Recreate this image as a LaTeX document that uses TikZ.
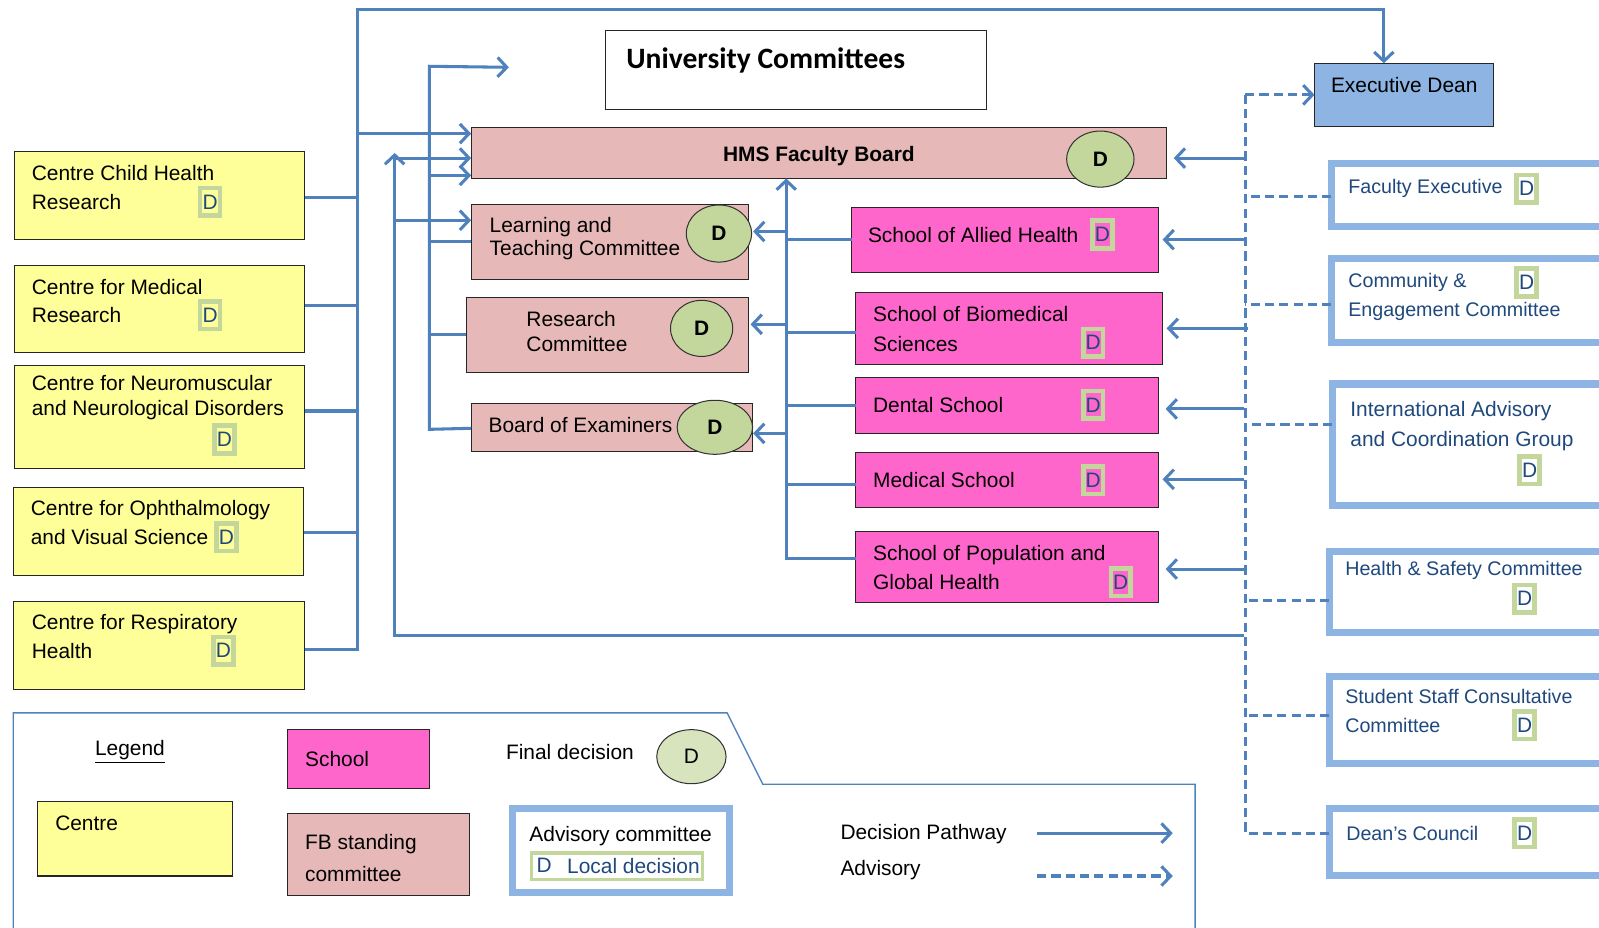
\documentclass[tikz,border=0pt]{standalone}
\usepackage{fontspec}
\setmainfont{Liberation Sans}
\newfontfamily\carl{Carlito}
\usetikzlibrary{arrows.meta,shapes.geometric}
\definecolor{lblue}{HTML}{4F81BD}
\definecolor{advb}{HTML}{8DB4E2}
\definecolor{cyellow}{HTML}{FFFF99}
\definecolor{fbpink}{HTML}{E6B9B8}
\definecolor{smag}{HTML}{FF66CC}
\definecolor{cgreen}{HTML}{C3D69B}
\definecolor{lgreen}{HTML}{D7E4BD}
\definecolor{dgreen}{HTML}{C3D69B}
\definecolor{dblue}{HTML}{1F497D}
\definecolor{tblue}{HTML}{1F497D}
\definecolor{edblue}{HTML}{8DB4E2}
\newcommand\myfs[2]{\fontsize{#1}{#2}\selectfont}
\tikzset{
  base/.style={inner sep=0pt, outer sep=0pt, anchor=north west, line width=1pt},
  ybox/.style={base, draw=black!85, fill=cyellow},
  fbbox/.style={base, draw=black!85, fill=fbpink},
  sbox/.style={base, draw=black!85, fill=smag},
  wbox/.style={base, draw=black!85, fill=white},
  abox/.style={base, draw=advb, line width=7pt, fill=white},
  txt/.style={inner sep=0pt, anchor=west, align=left, font=\myfs{20.5}{28}},
  atxt/.style={txt, text=tblue, font=\myfs{19.3}{28}},
  dm/.style={draw=dgreen, line width=4.5pt, inner sep=0pt, minimum width=19.5pt, minimum height=27pt, text=dblue, font=\myfs{20.5}{24}},
  dcirc/.style={ellipse, draw=black!80, fill=cgreen, line width=1pt, inner sep=0pt, font=\bfseries\myfs{20.5}{24}},
  ln/.style={draw=lblue, line width=3pt},
  arr/.style={ln, -{Straight Barb[length=9pt,width=19pt]}},
  dln/.style={ln, dash pattern=on 9pt off 5pt},
  darr/.style={dln, -{Straight Barb[length=9pt,width=19pt]}}
}
\begin{document}
\begin{tikzpicture}[x=1pt,y=-1pt]
\path[use as bounding box] (0,0) rectangle (1568,910);

% ---------- Centres ----------
\node[ybox, minimum width=285pt, minimum height=86pt] (c1) at (14,149) {};
\node[txt] (c1t) at (31,184) {Centre Child Health\\Research};
\node[dm] (c1d) at (206,198) {D};
\node[ybox, minimum width=285pt, minimum height=86pt] (c2) at (14,260) {};
\node[txt] (c2t) at (31,295) {Centre for Medical\\Research};
\node[dm] (c2d) at (206,309) {D};
\node[ybox, minimum width=285pt, minimum height=101pt] (c3) at (14,358) {};
\node[txt, font=\myfs{20.5}{24}] (c3t) at (31,390) {Centre for Neuromuscular\\and Neurological Disorders};
\node[dm] (c3d) at (220,431) {D};
\node[ybox, minimum width=285pt, minimum height=86pt] (c4) at (13,478) {};
\node[txt, font=\myfs{20.5}{29}] (c4t) at (30,512.5) {Centre for Ophthalmology\\and Visual Science};
\node[dm] (c4d) at (222,527) {D};
\node[ybox, minimum width=286pt, minimum height=86pt] (c5) at (13,590) {};
\node[txt] (c5t) at (31,624) {Centre for Respiratory\\Health};
\node[dm] (c5d) at (219,638) {D};

% ---------- University / Faculty board ----------
\node[wbox, minimum width=373pt, minimum height=77pt] (uc) at (594,30) {};
\node[txt, font=\carl\bfseries\myfs{29}{32}] (uct) at (614,59) {University Committees};
\node[fbbox, minimum width=682pt, minimum height=50pt] (hms) at (462,125) {};
\node[inner sep=0pt, font=\bfseries\myfs{20.5}{24}] (hmst) at (803,153) {HMS Faculty Board};
\node[dcirc, minimum width=66pt, minimum height=55pt] (hmsd) at (1079,156) {D};

% ---------- FB standing committees ----------
\node[fbbox, minimum width=272pt, minimum height=73pt] (ltc) at (462,201) {};
\node[txt, font=\myfs{20.5}{23}] (ltct) at (480,234) {Learning and\\Teaching Committee};
\node[dcirc, minimum width=64pt, minimum height=56pt] (ltcd) at (705,229) {D};
\node[fbbox, minimum width=277pt, minimum height=73pt] (rc) at (457,292) {};
\node[txt, font=\myfs{20.5}{24}] (rct) at (516,325) {Research\\Committee};
\node[dcirc, minimum width=61pt, minimum height=55pt] (rcd) at (688,322) {D};
\node[fbbox, minimum width=276pt, minimum height=47pt] (boe) at (462,396) {};
\node[txt] (boet) at (479,417) {Board of Examiners};
\node[dcirc, minimum width=74pt, minimum height=53pt] (boed) at (701,419) {D};

% ---------- Schools ----------
\node[sbox, minimum width=301pt, minimum height=64pt] (sah) at (835,203) {};
\node[txt] (saht) at (851,230) {School of Allied Health};
\node[dm] (sahd) at (1081,230) {D};
\node[sbox, minimum width=301pt, minimum height=70pt] (sbs) at (839,287) {};
\node[txt, font=\myfs{20.5}{29}] (sbst) at (856,322.5) {School of Biomedical\\Sciences};
\node[dm] (sbsd) at (1072,336) {D};
\node[sbox, minimum width=297pt, minimum height=55pt] (den) at (839,370) {};
\node[txt] (dent) at (856,397) {Dental School};
\node[dm] (dend) at (1072,397) {D};
\node[sbox, minimum width=297pt, minimum height=54pt] (med) at (839,444) {};
\node[txt] (medt) at (856,471) {Medical School};
\node[dm] (medd) at (1072,471) {D};
\node[sbox, minimum width=297pt, minimum height=70pt] (pop) at (839,521) {};
\node[txt, font=\myfs{20.5}{29}] (popt) at (856,556.5) {School of Population and\\Global Health};
\node[dm] (popd) at (1099,571) {D};

% ---------- Executive Dean ----------
\node[base, draw=black!85, fill=edblue, minimum width=176pt, minimum height=62pt] (ed) at (1289,62) {};
\node[txt] (edt) at (1305,83) {Executive Dean};

% ---------- Advisory committees ----------
\node[abox, minimum width=300pt, minimum height=62pt] (fe) at (1305.5,160.5) {};
\node[atxt] (fet) at (1322,185) {Faculty Executive};
\node[dm] (fed) at (1497,185) {D};
\node[abox, minimum width=300pt, minimum height=82pt] (ce) at (1305.5,253.5) {};
\node[atxt] (cet) at (1322,291) {Community \&\\Engagement Committee};
\node[dm] (ced) at (1497,277) {D};
\node[abox, minimum width=300pt, minimum height=119pt] (ia) at (1306.5,376.5) {};
\node[atxt, font=\myfs{20.5}{30}] (iat) at (1324,418) {International Advisory\\and Coordination Group};
\node[dm] (iad) at (1500,461) {D};
\node[abox, minimum width=300pt, minimum height=80pt] (hs) at (1303.5,540.5) {};
\node[atxt] (hst) at (1319,559) {Health \& Safety Committee};
\node[dm] (hsd) at (1495,587) {D};
\node[abox, minimum width=300pt, minimum height=85pt] (ss) at (1303.5,663.5) {};
\node[atxt] (sst) at (1319,697) {Student Staff Consultative\\Committee};
\node[dm] (ssd) at (1495,711) {D};
\node[abox, minimum width=300pt, minimum height=66pt] (dc) at (1303.5,792.5) {};
\node[atxt] (dct) at (1320,817) {Dean's Council};
\node[dm] (dcd) at (1495,817) {D};

% ---------- Decision pathway connectors ----------
\draw[ln] (c1.east |- 0,194) -- (351,194);
\draw[ln] (c2.east |- 0,300) -- (351,300);
\draw[ln] (c3.east |- 0,403) -- (351,403);
\draw[ln] (c4.east |- 0,522) -- (351,522);
\draw[arr] (c5.east |- 0,637) -- (351,637) -- (351,9) -- (1357,9) -- (1357,0 |- ed.north);
\draw[arr] (351,131) -- (hms.west |- 0,131);

\draw[arr] (1220,623) coordinate (rb) -- (387,623) -- (387,150);
\draw[arr] (387,155) -- (hms.west |- 0,155);
\draw[arr] (387,216) -- (ltc.west |- 0,216);

\draw[arr] (boe.west |- 0,420) -- (421,421) -- (421,65) -- (499,66);
\draw[ln] (ltc.west |- 0,237) -- (421,237);
\draw[ln] (rc.west |- 0,328) -- (421,328);
\draw[arr] (421,172) -- (hms.west |- 0,172);

\draw[arr] (pop.west |- 0,548) -- (771,548) -- (771,0 |- hms.south);
\draw[ln] (sah.west |- 0,235) -- (771,235);
\draw[ln] (sbs.west |- 0,326) -- (771,326);
\draw[ln] (den.west |- 0,398) -- (771,398);
\draw[ln] (med.west |- 0,475) -- (771,475);
\draw[arr, shorten >=1pt] (771,227) -- (ltcd.east |- 0,227);
\draw[arr, shorten >=2pt] (771,318) -- (rc.east |- 0,318);
\draw[arr] (771,425) -- (boed.east |- 0,425);

\draw[arr, shorten >=7pt] (1220,155) -- (hms.east |- 0,155);
\draw[arr, shorten >=4pt] (1220,235) -- (sah.east |- 0,235);
\draw[arr, shorten >=4pt] (1224,322) -- (sbs.east |- 0,322);
\draw[arr, shorten >=7pt] (1220,401) -- (den.east |- 0,401);
\draw[arr, shorten >=4pt] (1220,470) -- (med.east |- 0,470);
\draw[arr, shorten >=7pt] (1220,558) -- (pop.east |- 0,558);

% ---------- Advisory connectors ----------
\draw[dln] (dc.west |- 0,817) -- (1221,817) -- (1221,93);
\draw[darr] (1221,93) -- (ed.west |- 0,93);
\draw[dln] (fe.west |- 0,193) -- (1221,193);
\draw[dln] (ce.west |- 0,299) -- (1221,299);
\draw[dln] (ia.west |- 0,416) -- (1221,416);
\draw[dln] (hs.west |- 0,589) -- (1221,589);
\draw[dln] (ss.west |- 0,702) -- (1221,702);

% ---------- Legend ----------
\draw[draw=lblue, line width=1.4pt] (13,912) -- (13,699) -- (713,699) -- (748,769) -- (1172,769) -- (1172,912);
\node[txt] (legt) at (93,737) {\underline{Legend}};
\node[ybox, minimum width=191pt, minimum height=73pt] (lc) at (37,786) {};
\node[txt] (lct) at (54,807) {Centre};
\node[sbox, minimum width=139pt, minimum height=58pt] (ls) at (282,715) {};
\node[txt] (lst) at (299,744) {School};
\node[fbbox, minimum width=178pt, minimum height=80pt] (lf) at (282,798) {};
\node[txt, font=\myfs{20.5}{31}] (lft) at (299,841.5) {FB standing\\committee};
\node[txt] (lfd) at (496,737) {Final decision};
\node[dcirc, fill=lgreen, minimum width=68pt, minimum height=53pt, font=\myfs{20.5}{24}] (lcd) at (678,742) {D};
\node[abox, minimum width=213pt, minimum height=83pt] (la) at (502.5,792.5) {};
\node[txt] (lat) at (519,820) {Advisory committee};
\node[base, draw=dgreen, line width=3.5pt, minimum width=168pt, minimum height=26pt] (lld) at (521,836.5) {};
\node[txt, text=tblue] (lldd) at (526,849) {D};
\node[txt, text=tblue] (lldt) at (556,849) {Local decision};
\node[txt] (ldp) at (824,818) {Decision Pathway};
\node[txt] (lad) at (824,853) {Advisory};
\coordinate (lp1) at (1017,817);
\coordinate (lp2) at (1150,817);
\coordinate (lq1) at (1017,859);
\coordinate (lq2) at (1150,859);
\draw[arr] (lp1) -- (lp2);
\draw[darr] (lq1) -- (lq2);
\end{tikzpicture}
\end{document}
